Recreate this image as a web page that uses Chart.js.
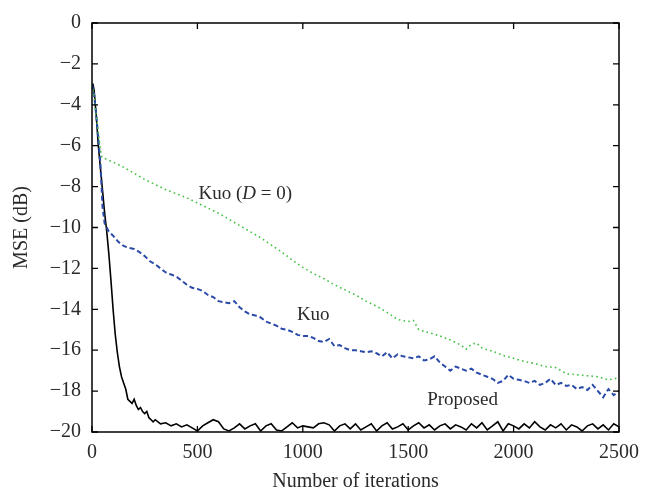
<!DOCTYPE html>
<html>
<head>
<meta charset="utf-8">
<script src="https://cdn.jsdelivr.net/npm/chart.js@4.4.1/dist/chart.umd.min.js"></script>
<style>
  html, body { margin: 0; padding: 0; background: #fff; }
  #wrap { width: 662px; height: 492px; }
</style>
</head>
<body>
<div id="wrap"><canvas id="mseChart" width="662" height="492"></canvas></div>
<script>
// iterations / MSE (dB)
const proposedX = [0, 5, 10, 20, 30, 40, 50, 60, 70, 80, 90, 100, 110, 120, 130, 140, 150, 160, 170, 180, 190, 200, 210, 220, 230, 240, 250, 260, 270, 280, 290,
  300, 325, 350, 375, 400, 425, 450, 475, 500, 525, 550, 575, 600, 625, 650, 675, 700, 725, 750, 775, 800, 825, 850, 875, 900, 925, 950, 975,
  1000, 1025, 1050, 1075, 1100, 1125, 1150, 1175, 1200, 1225, 1250, 1275, 1300, 1325, 1350, 1375, 1400, 1425, 1450, 1475,
  1500, 1525, 1550, 1575, 1600, 1625, 1650, 1675, 1700, 1725, 1750, 1775, 1800, 1825, 1850, 1875, 1900, 1925, 1950, 1975,
  2000, 2025, 2050, 2075, 2100, 2125, 2150, 2175, 2200, 2225, 2250, 2275, 2300, 2325, 2350, 2375, 2400, 2425, 2450, 2475, 2500];
const proposedY = [-3.0, -3.0, -3.3, -4.5, -6.0, -7.1, -8.2, -9.3, -10.2, -11.3, -12.6, -14.0, -15.2, -16.1, -16.8, -17.3, -17.6, -17.9, -18.4, -18.5, -18.6, -18.4, -18.7, -18.9, -18.8, -19.0, -19.1, -19.0, -19.3, -19.4, -19.5,
  -19.4, -19.6, -19.55, -19.7, -19.6, -19.75, -19.65, -19.8, -19.95, -19.7, -19.55, -19.4, -19.5, -19.85, -19.95, -19.8, -19.6, -19.85, -19.7, -19.6, -19.95, -19.7, -19.6, -19.9, -19.95, -19.75, -19.55, -19.8,
  -19.7, -19.75, -19.8, -19.6, -19.55, -19.65, -19.95, -19.7, -19.6, -19.85, -19.6, -19.9, -19.75, -19.6, -19.95, -19.7, -19.55, -19.85, -19.75, -19.6,
  -19.9, -19.7, -19.55, -19.8, -19.65, -19.9, -19.7, -19.6, -19.85, -19.65, -19.75, -19.9, -19.6, -19.8, -19.55, -19.9, -19.7, -19.5, -19.95, -19.6,
  -19.7, -19.85, -19.6, -19.8, -19.5, -19.75, -19.9, -19.65, -19.8, -19.6, -19.9, -19.65, -19.75, -19.95, -19.7, -19.6, -19.85, -19.65, -19.9, -19.6, -19.75];

const kuoX = [0, 10, 20, 30, 40, 50, 60, 70, 80, 100, 125, 150, 175, 200, 225, 250, 275, 300, 325, 350, 375, 400, 425, 450, 475,
  500, 525, 550, 575, 600, 625, 650, 675, 700, 725, 750, 775, 800, 825, 850, 875, 900, 925, 950, 975,
  1000, 1025, 1050, 1075, 1100, 1125, 1150, 1175, 1200, 1225, 1250, 1275, 1300, 1325, 1350, 1375, 1400, 1425, 1450, 1475,
  1500, 1525, 1550, 1575, 1600, 1625, 1650, 1675, 1700, 1725, 1750, 1775, 1800, 1825, 1850, 1875, 1900, 1925, 1950, 1975,
  2000, 2025, 2050, 2075, 2100, 2125, 2150, 2175, 2200, 2225, 2250, 2275, 2300, 2325, 2350, 2375, 2400, 2425, 2450, 2475, 2500];
const kuoY = [-3.0, -3.5, -4.5, -5.6, -6.9, -9.0, -9.8, -10.0, -10.2, -10.4, -10.7, -10.9, -11.0, -11.05, -11.2, -11.4, -11.65, -11.8, -12.0, -12.2, -12.3, -12.4, -12.6, -12.8, -12.95,
  -13.0, -13.1, -13.3, -13.4, -13.6, -13.65, -13.7, -13.6, -13.9, -14.1, -14.25, -14.3, -14.4, -14.6, -14.7, -14.8, -14.95, -15.0, -15.1, -15.25,
  -15.3, -15.3, -15.4, -15.55, -15.6, -15.45, -15.8, -15.75, -15.9, -16.0, -16.0, -16.05, -16.1, -16.05, -16.15, -16.3, -16.1, -16.4, -16.2, -16.3,
  -16.35, -16.4, -16.3, -16.5, -16.45, -16.3, -16.6, -16.8, -17.0, -16.8, -16.9, -17.0, -16.9, -17.1, -17.2, -17.3, -17.4, -17.6, -17.5, -17.2,
  -17.4, -17.45, -17.5, -17.6, -17.5, -17.7, -17.6, -17.4, -17.7, -17.6, -17.75, -17.7, -17.9, -17.8, -17.95, -17.7, -18.0, -18.3, -17.9, -18.2, -18.0];

const kuoD0X = [0, 10, 20, 30, 40, 47, 75, 100, 150, 200, 250, 300, 350, 400, 450, 500, 550, 600, 650, 700, 750, 800, 850, 900, 950,
  1000, 1050, 1100, 1150, 1200, 1250, 1300, 1350, 1400, 1450, 1500, 1525, 1550, 1600, 1650, 1700, 1750, 1775, 1800, 1825, 1850, 1900, 1950,
  2000, 2050, 2100, 2150, 2200, 2250, 2300, 2350, 2400, 2450, 2500];
const kuoD0Y = [-3.0, -3.6, -4.5, -5.4, -6.2, -6.55, -6.7, -6.8, -7.05, -7.35, -7.65, -7.9, -8.15, -8.35, -8.55, -8.8, -9.05, -9.3, -9.6, -9.9, -10.2, -10.5, -10.85, -11.2, -11.6,
  -11.95, -12.25, -12.5, -12.8, -13.05, -13.3, -13.6, -13.85, -14.15, -14.5, -14.6, -14.55, -15.0, -15.15, -15.3, -15.5, -15.75, -15.95, -15.7, -15.65, -15.9, -16.05, -16.25,
  -16.4, -16.55, -16.65, -16.8, -16.85, -17.15, -17.2, -17.25, -17.3, -17.45, -17.35];

const xTicks = [0, 500, 1000, 1500, 2000, 2500];
const yTicks = [0, -2, -4, -6, -8, -10, -12, -14, -16, -18, -20];

const toPoints = (xs, ys) => xs.map((x, i) => ({ x: x, y: ys[i] }));

const FONT = 'Liberation Serif, DejaVu Serif, serif';
const TEXT = '#2a2a2a';

// box around the plot with ticks pointing inwards on all four sides
const framePlugin = {
  id: 'frame',
  afterDraw(chart) {
    const { ctx, chartArea: a, scales } = chart;
    const len = 6;
    ctx.save();
    ctx.strokeStyle = '#000';
    ctx.lineWidth = 1.5;
    ctx.strokeRect(a.left, a.top, a.right - a.left, a.bottom - a.top);
    ctx.lineWidth = 1.3;
    ctx.beginPath();
    xTicks.forEach(v => {
      const px = scales.x.getPixelForValue(v);
      ctx.moveTo(px, a.bottom); ctx.lineTo(px, a.bottom - len);
      ctx.moveTo(px, a.top); ctx.lineTo(px, a.top + len);
    });
    yTicks.forEach(v => {
      const py = scales.y.getPixelForValue(v);
      ctx.moveTo(a.left, py); ctx.lineTo(a.left + len, py);
      ctx.moveTo(a.right, py); ctx.lineTo(a.right - len, py);
    });
    ctx.stroke();
    ctx.restore();
  }
};

// curve names written next to the curves, placed in data units
const labelPlugin = {
  id: 'curveLabels',
  afterDatasetsDraw(chart) {
    const { ctx, scales } = chart;
    ctx.save();
    ctx.fillStyle = TEXT;
    ctx.textBaseline = 'middle';
    ctx.textAlign = 'left';
    const normal = '19px ' + FONT;
    const italic = 'italic 19px ' + FONT;

    // Kuo (D = 0)
    let x = scales.x.getPixelForValue(505);
    let y = scales.y.getPixelForValue(-8.35);
    const parts = [['Kuo (', normal], ['D', italic], [' = 0)', normal]];
    parts.forEach(([t, f]) => {
      ctx.font = f;
      ctx.fillText(t, x, y);
      x += ctx.measureText(t).width;
    });

    ctx.font = normal;
    ctx.fillText('Kuo', scales.x.getPixelForValue(972), scales.y.getPixelForValue(-14.3));
    ctx.fillText('Proposed', scales.x.getPixelForValue(1590), scales.y.getPixelForValue(-18.45));
    ctx.restore();
  }
};

new Chart(document.getElementById('mseChart'), {
  type: 'line',
  data: {
    datasets: [
      {
        label: 'Kuo (D = 0)',
        data: toPoints(kuoD0X, kuoD0Y),
        borderColor: '#44c044',
        borderWidth: 1.6,
        borderDash: [1.6, 3.2],
        pointRadius: 0,
        tension: 0
      },
      {
        label: 'Kuo',
        data: toPoints(kuoX, kuoY),
        borderColor: '#2a4aa8',
        borderWidth: 2,
        borderDash: [5, 3],
        pointRadius: 0,
        tension: 0
      },
      {
        label: 'Proposed',
        data: toPoints(proposedX, proposedY),
        borderColor: '#000',
        borderWidth: 1.6,
        pointRadius: 0,
        tension: 0
      }
    ]
  },
  options: {
    responsive: false,
    animation: false,
    layout: { padding: { top: 15, right: 43, left: 0, bottom: 0 } },
    plugins: {
      legend: { display: false },
      tooltip: { enabled: false }
    },
    scales: {
      x: {
        type: 'linear',
        min: 0,
        max: 2500,
        afterFit: (scale) => { scale.height = 60; },
        afterBuildTicks: (scale) => { scale.ticks = xTicks.map(v => ({ value: v })); },
        grid: { display: false, drawTicks: false },
        border: { display: false },
        ticks: {
          padding: 9,
          color: TEXT,
          font: { family: FONT, size: 20 },
          maxRotation: 0,
          callback: (v) => String(v)
        },
        title: {
          display: true,
          text: 'Number of iterations',
          color: TEXT,
          font: { family: FONT, size: 20, lineHeight: 1 },
          padding: { top: 0, bottom: 0 }
        }
      },
      y: {
        type: 'linear',
        min: -20,
        max: 0,
        afterFit: (scale) => { scale.width = 92; },
        afterBuildTicks: (scale) => { scale.ticks = yTicks.map(v => ({ value: v })); },
        grid: { display: false, drawTicks: false },
        border: { display: false },
        ticks: {
          padding: 11,
          color: TEXT,
          font: { family: FONT, size: 20 },
          callback: (v) => String(v).replace('-', '\u2212')
        },
        title: {
          display: true,
          text: 'MSE (dB)',
          color: TEXT,
          font: { family: FONT, size: 20, lineHeight: 1 },
          padding: { top: 12, bottom: 0 }
        }
      }
    }
  },
  plugins: [framePlugin, labelPlugin]
});
</script>
</body>
</html>
